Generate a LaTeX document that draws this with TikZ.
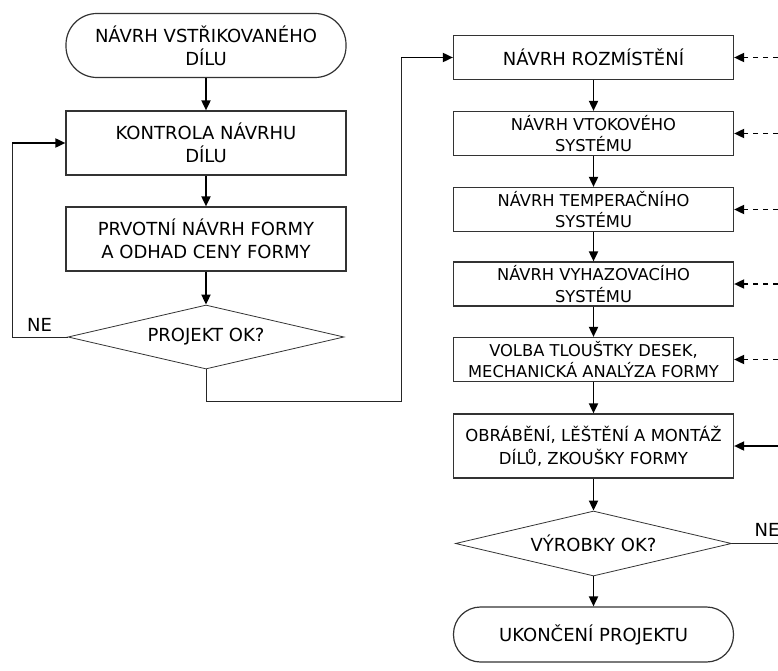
\documentclass[tikz,border=0pt]{standalone}
\usepackage{fontspec}
\setmainfont{DejaVu Sans}
\usetikzlibrary{arrows.meta,shapes.geometric}

\tikzset{
  krok/.style={rectangle, draw=black!80, line width=1.2pt, minimum width=280pt,
    minimum height=44pt, inner sep=0pt, align=center,
    font=\fontsize{16.3}{21.5}\selectfont},
  velkykrok/.style={krok, minimum height=64pt, font=\fontsize{18}{23}\selectfont},
  mez/.style={velkykrok, rounded corners=31pt},
  rozhod/.style={diamond, draw=black!80, line width=0.8pt, shape aspect=4.3,
    minimum width=276pt, minimum height=64pt, inner sep=0pt,
    font=\fontsize{18}{23}\selectfont},
  sipka/.style={->, line width=1.8pt},
  carkovana/.style={sipka, dash pattern=on 5pt off 5pt},
  vetev/.style={draw=black!85, line width=0.9pt},
  popisek/.style={font=\fontsize{18}{23}\selectfont, inner sep=0pt}
}

\begin{document}
\begin{tikzpicture}[x=1pt, y=-1pt, >={Triangle[length=10pt,width=9pt]}]
\useasboundingbox (0,0) rectangle (778,671);

% navrh dilu
\begin{scope}[xshift=206pt]
  \node[mez] (zacatek) at (0,45.5) {NÁVRH VSTŘIKOVANÉHO\\DÍLU};
  \node[velkykrok] (kontrola) at (0,143) {KONTROLA NÁVRHU\\DÍLU};
  \node[velkykrok] (prvotni) at (0,239) {PRVOTNÍ NÁVRH FORMY\\A ODHAD CENY FORMY};
  \node[rozhod] (projekt) at (0,337) {PROJEKT OK?};
  \node[popisek] (ne1) at (-166.5,325) {NE};
\end{scope}

\draw[sipka] (zacatek) -- (kontrola);
\draw[sipka] (kontrola) -- (prvotni);
\draw[sipka] (prvotni) -- (projekt);

\coordinate (levy) at (12,0);
\draw[vetev] (projekt.west) -- (projekt.west -| levy) -- (kontrola.west -| levy);
\draw[sipka] (kontrola.west -| levy) -- (kontrola.west);

% navrh formy
\begin{scope}[xshift=593.5pt]
  \node[krok, font=\fontsize{18}{23}\selectfont] (rozm) at (0,57.5) {NÁVRH ROZMÍSTĚNÍ};
  \node[krok] (vtok) at (0,133.5) {NÁVRH VTOKOVÉHO\\SYSTÉMU};
  \node[krok] (temp) at (0,209.5) {NÁVRH TEMPERAČNÍHO\\SYSTÉMU};
  \node[krok] (vyhaz) at (0,284) {NÁVRH VYHAZOVACÍHO\\SYSTÉMU};
  \node[krok] (volba) at (0,359.5) {VOLBA TLOUŠTKY DESEK,\\MECHANICKÁ ANALÝZA FORMY};
  \node[krok, minimum height=64pt, font=\fontsize{16.5}{23}\selectfont] (obrab)
    at (0,446) {OBRÁBĚNÍ, LĚŠTĚNÍ A MONTÁŽ\\DÍLŮ, ZKOUŠKY FORMY};
  \node[rozhod, minimum height=65pt] (vyrobky) at (0,543.5) {VÝROBKY OK?};
  \node[mez, minimum height=55pt, rounded corners=27pt] (konec) at (0,634.5)
    {UKONČENÍ PROJEKTU};
  \node[popisek] (ne2) at (173.5,530) {NE};
\end{scope}

\coordinate (spodek) at (0,401);
\coordinate (stred) at (401,0);
\draw[vetev] (projekt.south) -- (projekt.south |- spodek) -- (spodek -| stred)
  -- (rozm.west -| stred);
\draw[sipka] (rozm.west -| stred) -- (rozm.west);

\foreach \a/\b in {rozm/vtok, vtok/temp, temp/vyhaz, vyhaz/volba, volba/obrab,
    obrab/vyrobky, vyrobky/konec}
  \draw[sipka] (\a) -- (\b);

% vstupy zprava
\coordinate (okraj) at (778,0);
\foreach \n in {rozm,vtok,temp,vyhaz,volba}
  \draw[carkovana] (\n.east -| okraj) -- (\n.east);
\draw[sipka] (obrab.east -| okraj) -- (obrab.east);
\draw[vetev] (vyrobky.east) -- (vyrobky.east -| okraj);

\end{tikzpicture}
\end{document}
